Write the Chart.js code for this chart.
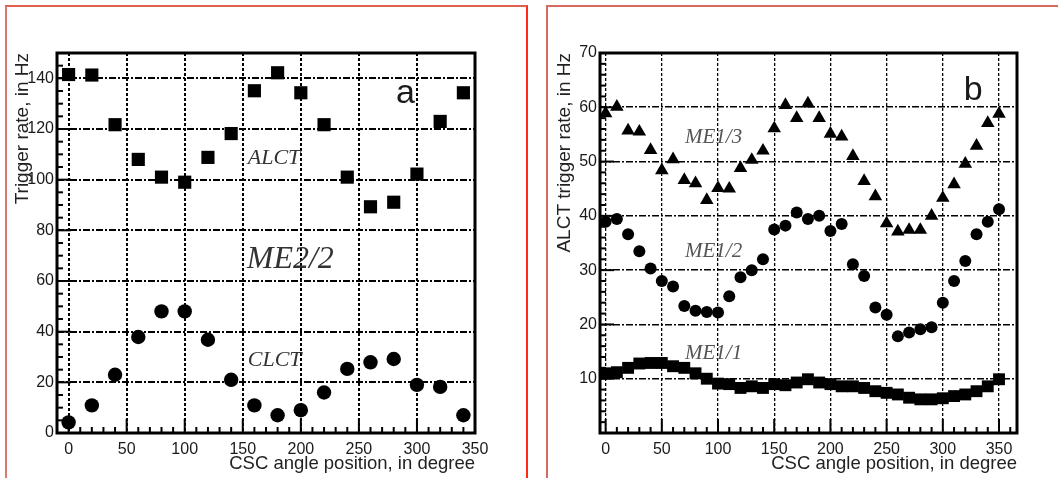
<!DOCTYPE html>
<html>
<head>
<meta charset="utf-8">
<script src="https://cdn.jsdelivr.net/npm/chart.js@4.4.1/dist/chart.umd.min.js"></script>
<style>
  body { margin: 0; background: #fff; width: 1058px; height: 478px; position: relative; overflow: hidden; }
  canvas { position: absolute; top: 0; }
  #chartA { left: 0; }
  #chartB { left: 530px; }
  .frame { position: absolute; pointer-events: none; box-sizing: border-box; }
  #frameA { left: 5px; top: 5px; width: 523px; height: 490px; border-left: 2px solid #d9786c; border-top: 2px solid #e0604f; border-right: 2px solid #ff2a12; }
  #frameB { left: 546px; top: 5px; width: 530px; height: 490px; border-left: 2px solid #d46a60; border-top: 2px solid #d46a60; }
</style>
</head>
<body>
<canvas id="chartA" width="527" height="478"></canvas>
<canvas id="chartB" width="528" height="478"></canvas>
<div class="frame" id="frameA"></div>
<div class="frame" id="frameB"></div>
<script>
// panel a: ME2/2, rates every 20 degrees
const anglesA = [0, 20, 40, 60, 80, 100, 120, 140, 160, 180, 200, 220, 240, 260, 280, 300, 320, 340]
const alctA = [141.5, 141.3, 121.7, 108, 101, 99, 108.8, 118.2, 135.1, 142.2, 134.3, 121.7, 101, 89.3, 91.1, 102.2, 123, 134.3]
const clctA = [4.2, 10.9, 23, 37.9, 48, 48, 36.8, 21, 10.9, 7, 9, 16, 25.3, 27.9, 29.2, 19, 18.2, 7]
const xTicksA = [0, 50, 100, 150, 200, 250, 300, 350]
const yTicksA = [0, 20, 40, 60, 80, 100, 120, 140]

// panel b: ME1/1, ME1/2, ME1/3 ALCT rates every 10 degrees
const anglesB = [0, 10, 20, 30, 40, 50, 60, 70, 80, 90, 100, 110, 120, 130, 140, 150, 160, 170,
    180, 190, 200, 210, 220, 230, 240, 250, 260, 270, 280, 290, 300, 310, 320, 330, 340, 350]
const me13 = [58.9, 60.1, 55.7, 55.5, 52.1, 48.4, 50.4, 46.6, 46.0, 42.9, 45.1, 45.0, 48.8, 50.3, 52.0, 56.1, 60.4, 58.0,
    60.7, 58.0, 55.1, 54.6, 51.0, 46.4, 43.6, 38.6, 37.1, 37.4, 37.4, 40.0, 43.3, 45.8, 49.6, 52.9, 57.1, 58.8]
const me12 = [38.9, 39.4, 36.6, 33.5, 30.3, 28.0, 27.0, 23.4, 22.5, 22.3, 22.2, 25.2, 28.7, 30.0, 32.0, 37.5, 38.2, 40.6,
    39.4, 40.0, 37.2, 38.5, 31.1, 28.9, 23.1, 21.8, 17.8, 18.5, 19.1, 19.5, 24.0, 28.0, 31.7, 36.6, 38.9, 41.2]
const me11 = [11.0, 11.2, 12.0, 12.8, 12.9, 12.9, 12.3, 12.0, 11.0, 10.0, 9.1, 9.0, 8.3, 8.6, 8.3, 9.0, 8.8, 9.3,
    9.9, 9.3, 9.0, 8.6, 8.6, 8.3, 7.7, 7.4, 7.1, 6.5, 6.2, 6.2, 6.4, 6.8, 7.1, 7.7, 8.6, 9.9]
const xTicksB = [0, 50, 100, 150, 200, 250, 300, 350]
const yTicksB = [10, 20, 30, 40, 50, 60, 70]

const toPoints = (xs, ys) => xs.map((x, i) => ({ x: x, y: ys[i] }))

// frame, inner tick marks and text labels
const decorate = (cfg) => ({
    id: 'decorate',
    afterDatasetsDraw(chart) {
        const { ctx, chartArea: a, scales: { x, y } } = chart
        ctx.save()
        ctx.strokeStyle = '#000'
        ctx.lineWidth = 2
        for (let v = cfg.xFrom; v <= cfg.xTo; v += cfg.xMinor) {
            const px = x.getPixelForValue(v)
            const len = v % cfg.xMajor === 0 ? 14 : 6
            ctx.beginPath()
            ctx.moveTo(px, a.bottom)
            ctx.lineTo(px, a.bottom - len)
            ctx.stroke()
        }
        for (let v = cfg.yFrom; v <= cfg.yTo; v += cfg.yMinor) {
            const py = y.getPixelForValue(v)
            const len = v % cfg.yMajor === 0 ? 14 : 6
            ctx.beginPath()
            ctx.moveTo(a.left, py)
            ctx.lineTo(a.left + len, py)
            ctx.stroke()
        }
        ctx.lineWidth = 3
        ctx.strokeRect(a.left, a.top, a.right - a.left, a.bottom - a.top)

        cfg.texts.forEach((t) => {
            ctx.font = t.font
            ctx.fillStyle = t.color
            ctx.textAlign = t.align || 'left'
            ctx.textBaseline = 'alphabetic'
            ctx.fillText(t.text, x.getPixelForValue(t.x), y.getPixelForValue(t.y))
        })
        ctx.restore()
    }
})

const makeChart = (el, p) => new Chart(el, {
    type: 'scatter',
    data: { datasets: p.datasets },
    options: {
        responsive: false,
        animation: false,
        events: [],
        layout: { padding: { left: 0, top: 53, right: p.padRight, bottom: 0 } },
        plugins: { legend: { display: false }, tooltip: { enabled: false } },
        scales: {
            x: {
                type: 'linear',
                min: p.xMin,
                max: p.xMax,
                afterBuildTicks: (s) => { s.ticks = p.xTicks.map((v) => ({ value: v })) },
                afterFit: (s) => { s.height = 45 },
                ticks: { padding: 7, color: '#1a1a1a', font: { family: 'Liberation Sans', size: 16 } },
                grid: { color: '#000', lineWidth: p.vGridWidth, drawTicks: false },
                border: { display: false, dash: [3, 2] },
                title: {
                    display: true,
                    text: 'CSC angle position, in degree',
                    align: 'end',
                    color: '#222',
                    padding: { top: 0, bottom: 3 },
                    font: { family: 'Liberation Sans', size: 18.5, lineHeight: 1.2 }
                }
            },
            y: {
                type: 'linear',
                min: p.yMin,
                max: p.yMax,
                afterBuildTicks: (s) => { s.ticks = p.yTicks.map((v) => ({ value: v })) },
                afterFit: (s) => { s.width = p.yWidth },
                ticks: { padding: 3, color: '#1a1a1a', font: { family: 'Liberation Sans', size: 16 } },
                grid: { color: '#000', lineWidth: p.hGridWidth, drawTicks: false },
                border: { display: false, dash: [7, 2, 2, 2] },
                title: {
                    display: true,
                    text: p.yTitle,
                    align: 'end',
                    color: '#222',
                    padding: { top: p.yTitlePad, bottom: 0 },
                    font: { family: 'Liberation Sans', size: 19, lineHeight: 1.2 }
                }
            }
        }
    },
    plugins: [decorate(p.deco)]
})

makeChart(document.getElementById('chartA'), {
    xMin: -10, xMax: 350, yMin: 0, yMax: 150,
    xTicks: xTicksA, yTicks: yTicksA,
    padRight: 52, yWidth: 57, yTitlePad: 11,
    vGridWidth: 2, hGridWidth: 2,
    yTitle: 'Trigger rate, in Hz',
    datasets: [
        { label: 'ALCT', data: toPoints(anglesA, alctA), pointStyle: 'rect', pointRadius: 9.3, backgroundColor: '#000', borderWidth: 0 },
        { label: 'CLCT', data: toPoints(anglesA, clctA), pointStyle: 'circle', pointRadius: 7.2, backgroundColor: '#000', borderWidth: 0 }
    ],
    deco: {
        xFrom: 0, xTo: 350, xMinor: 10, xMajor: 50,
        yFrom: 0, yTo: 150, yMinor: 5, yMajor: 20,
        texts: [
            { text: 'a', x: 290, y: 130.2, align: 'center', font: '34px "Liberation Sans"', color: '#1a1a1a' },
            { text: 'ALCT', x: 154.3, y: 106.1, font: 'italic 22px "Liberation Serif"', color: '#333' },
            { text: 'ME2/2', x: 153.4, y: 65.1, font: 'italic 32px "Liberation Serif"', color: '#333' },
            { text: 'CLCT', x: 154.3, y: 26.4, font: 'italic 22px "Liberation Serif"', color: '#333' }
        ]
    }
})

makeChart(document.getElementById('chartB'), {
    xMin: -5, xMax: 366, yMin: 0, yMax: 70,
    xTicks: xTicksB, yTicks: yTicksB,
    padRight: 41, yWidth: 70, yTitlePad: 23,
    vGridWidth: 1.3, hGridWidth: 1.6,
    yTitle: 'ALCT trigger rate, in Hz',
    datasets: [
        { label: 'ME1/3', data: toPoints(anglesB, me13), pointStyle: 'triangle', pointRadius: 7.8, backgroundColor: '#000', borderWidth: 0 },
        { label: 'ME1/2', data: toPoints(anglesB, me12), pointStyle: 'circle', pointRadius: 6, backgroundColor: '#000', borderWidth: 0 },
        { label: 'ME1/1', data: toPoints(anglesB, me11), pointStyle: 'rect', pointRadius: 8.4, backgroundColor: '#000', borderWidth: 0 }
    ],
    deco: {
        xFrom: 0, xTo: 360, xMinor: 10, xMajor: 50,
        yFrom: 2, yTo: 68, yMinor: 2, yMajor: 10,
        texts: [
            { text: 'b', x: 327, y: 61.4, align: 'center', font: '34px "Liberation Sans"', color: '#1a1a1a' },
            { text: 'ME1/3', x: 70.6, y: 53.5, font: 'italic 21px "Liberation Serif"', color: '#555' },
            { text: 'ME1/2', x: 70.6, y: 32.5, font: 'italic 21px "Liberation Serif"', color: '#555' },
            { text: 'ME1/1', x: 70.6, y: 13.7, font: 'italic 21px "Liberation Serif"', color: '#555' }
        ]
    }
})
</script>
</body>
</html>
